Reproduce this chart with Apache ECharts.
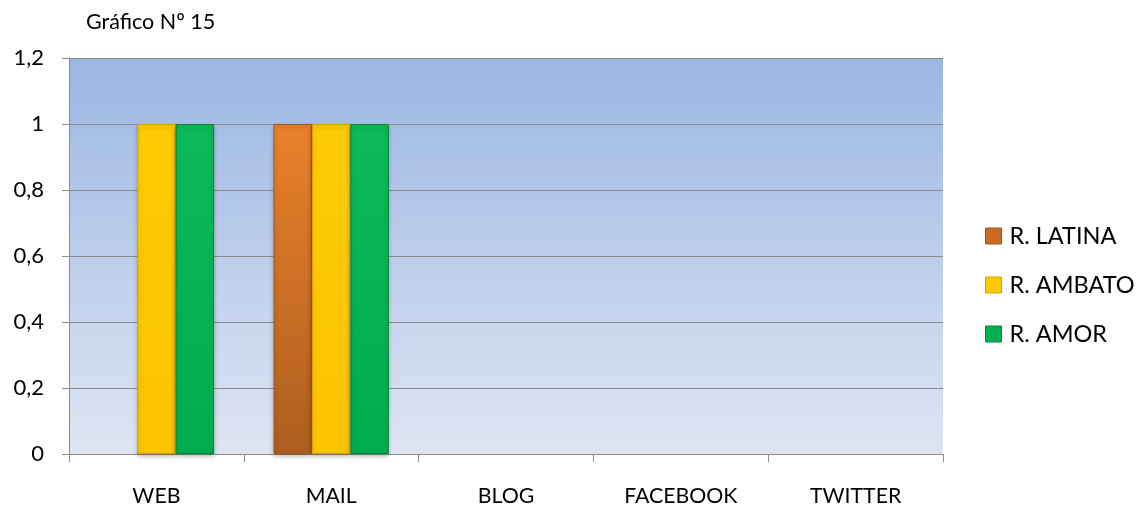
<!DOCTYPE html>
<html><head><meta charset="utf-8">
<script src="https://cdn.jsdelivr.net/npm/echarts@6/dist/echarts.min.js"></script>
<style>html,body{margin:0;padding:0;background:#fff}#c{width:1143px;height:511px}</style>
</head><body><div id="c"></div>
<script>
const categories = ['WEB', 'MAIL', 'BLOG', 'FACEBOOK', 'TWITTER'];
const seriesNames = ['R. LATINA', 'R. AMBATO', 'R. AMOR'];
const latina = [0, 1, 0, 0, 0];
const ambato = [1, 1, 0, 0, 0];
const amor = [1, 1, 0, 0, 0];
const yTicks = [0, 0.2, 0.4, 0.6, 0.8, 1, 1.2];

const font = 'Lato, "Open Sans", sans-serif';
const grad = (top, bottom) => new echarts.graphic.LinearGradient(0, 0, 0, 1, [{offset: 0, color: top}, {offset: 1, color: bottom}]);
const colors = [grad('#ea812b', '#ad5e1f'), grad('#ffcb05', '#fcc400'), grad('#0bba58', '#00ad4c')];
const borders = ['#a4581a', '#d9a300', '#008a3a'];
const legendColors = ['#c96a22', '#ffc800', '#00b050'];

const chart = echarts.init(document.getElementById('c'));
const mk = (name, data, i) => ({
  name, type: 'bar',
  data: data.map(v => v === 0 ? {value: v, itemStyle: {borderWidth: 0, shadowBlur: 0, shadowOffsetY: 0, opacity: 0}} : v),
  barGap: '0%', barCategoryGap: '34%',
  itemStyle: {color: colors[i], borderColor: borders[i], borderWidth: 1, shadowColor: 'rgba(0,0,0,0.25)', shadowBlur: 4, shadowOffsetY: 2}
});
chart.setOption({
  animation: false,
  color: legendColors,
  title: {text: 'Gráfico Nº 15', left: 81, top: 6, textStyle: {fontFamily: font, fontSize: 21.5, fontWeight: 'normal', color: '#000'}},
  grid: {left: 69, right: 200, top: 58, bottom: 57, show: true, borderWidth: 0,
    backgroundColor: new echarts.graphic.LinearGradient(0, 0, 0, 1, [{offset: 0, color: '#9bb6e3'}, {offset: 1, color: '#dee5f3'}])},
  legend: {orient: 'vertical', left: 980, top: 219, itemGap: 25, itemWidth: 16, itemHeight: 16, icon: 'rect',
    data: seriesNames.map((n, i) => ({name: n, itemStyle: {color: legendColors[i], borderColor: borders[i], borderWidth: 1}})),
    textStyle: {fontFamily: font, fontSize: 23.5, color: '#000', padding: [0, 0, 0, 3]}},
  xAxis: {type: 'category', data: categories,
    axisLine: {lineStyle: {color: '#8c8c8c', width: 1}},
    axisTick: {show: true, length: 8, lineStyle: {color: '#8c8c8c'}},
    axisLabel: {fontFamily: font, fontSize: 21.3, color: '#000', margin: 32}},
  yAxis: {type: 'value', min: 0, max: 1.2, interval: 0.2,
    axisLine: {show: true, lineStyle: {color: '#8c8c8c'}},
    axisTick: {show: true, length: 7, lineStyle: {color: '#8c8c8c'}},
    splitLine: {lineStyle: {color: '#8c8c8c', width: 1}},
    axisLabel: {fontFamily: font, fontSize: 22, color: '#000', margin: 25,
      formatter: v => { const t = yTicks.find(x => Math.abs(x - v) < 1e-9); return String(t === undefined ? v : t).replace('.', ','); }}},
  series: [mk(seriesNames[0], latina, 0), mk(seriesNames[1], ambato, 1), mk(seriesNames[2], amor, 2)]
});
</script></body></html>
